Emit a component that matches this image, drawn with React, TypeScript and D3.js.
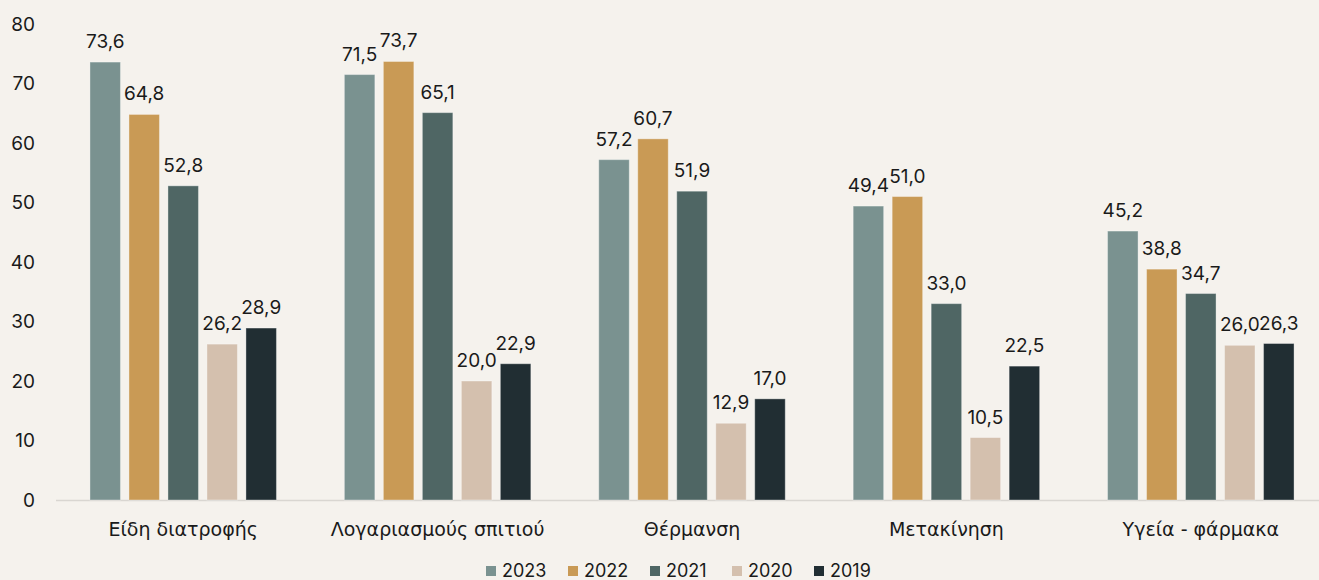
import React from "react";
import * as d3 from "d3";

const categories = ["Είδη διατροφής", "Λογαριασμούς σπιτιού", "Θέρμανση", "Μετακίνηση", "Υγεία - φάρμακα"];
const seriesNames = ["2023", "2022", "2021", "2020", "2019"];
const values2023 = [73.6, 71.5, 57.2, 49.4, 45.2];
const values2022 = [64.8, 73.7, 60.7, 51.0, 38.8];
const values2021 = [52.8, 65.1, 51.9, 33.0, 34.7];
const values2020 = [26.2, 20.0, 12.9, 10.5, 26.0];
const values2019 = [28.9, 22.9, 17.0, 22.5, 26.3];
const seriesValues = [values2023, values2022, values2021, values2020, values2019];
const colors = ["#7a9290", "#c99a55", "#4f6664", "#d4c0ae", "#212e33"];
const yTicks = [0, 10, 20, 30, 40, 50, 60, 70, 80];

const W = 1319, H = 580;
const FONT = "Inter, 'Noto Sans', sans-serif";
const CAT_FONT = "'DejaVu Sans', 'Noto Sans', sans-serif";
const FS = 19;

export default function App() {
  const x0 = d3.scaleBand<string>().domain(categories).range([56, 1328]).paddingInner(0.267).paddingOuter(0.1335);
  const x1 = d3.scaleBand<string>().domain(seriesNames).range([0, x0.bandwidth()]).paddingInner(0.218).paddingOuter(0);
  const y = d3.scaleLinear().domain([0, 80]).range([500, 24]);
  const fmt = (v: number) => v.toFixed(1).replace(".", ",");

  return (
    <svg width={W} height={H} style={{ position: "absolute", left: 0, top: 0, display: "block", background: "#f5f2ed" }} fontFamily={FONT}>
      <rect x={0} y={0} width={W} height={H} fill="#f5f2ed" />
      {yTicks.map((t) => (
        <text key={t} x={35} y={y(t)} textAnchor="end" dominantBaseline="central" fontSize={FS} fill="#1a1a1a">{t}</text>
      ))}
      <line x1={56} x2={W} y1={y(0) + 0.5} y2={y(0) + 0.5} stroke="#d9d6d1" strokeWidth={1.5} />
      {categories.map((c, ci) => (
        <g key={c} transform={`translate(${x0(c)},0)`}>
          {seriesNames.map((s, si) => {
            const v = seriesValues[si][ci];
            const bx = x1(s)!;
            return (
              <g key={s}>
                <rect x={bx} y={y(v)} width={x1.bandwidth()} height={y(0) - y(v)} fill={colors[si]} stroke="#ffffff" strokeOpacity={0.35} strokeWidth={1} />
                <text x={bx + x1.bandwidth() / 2} y={y(v) - 14} textAnchor="middle" fontSize={FS} fill="#1a1a1a">{fmt(v)}</text>
              </g>
            );
          })}
          <text x={x0.bandwidth() / 2} y={536} textAnchor="middle" fontSize={19} fontFamily={CAT_FONT} fill="#1a1a1a">{c}</text>
        </g>
      ))}
      {seriesNames.map((s, si) => (
        <g key={s} transform={`translate(${486 + si * 82},0)`}>
          <rect x={0} y={566} width={10} height={10} fill={colors[si]} />
          <text x={16} y={576.5} fontSize={18} fill="#1a1a1a">{s}</text>
        </g>
      ))}
    </svg>
  );
}
